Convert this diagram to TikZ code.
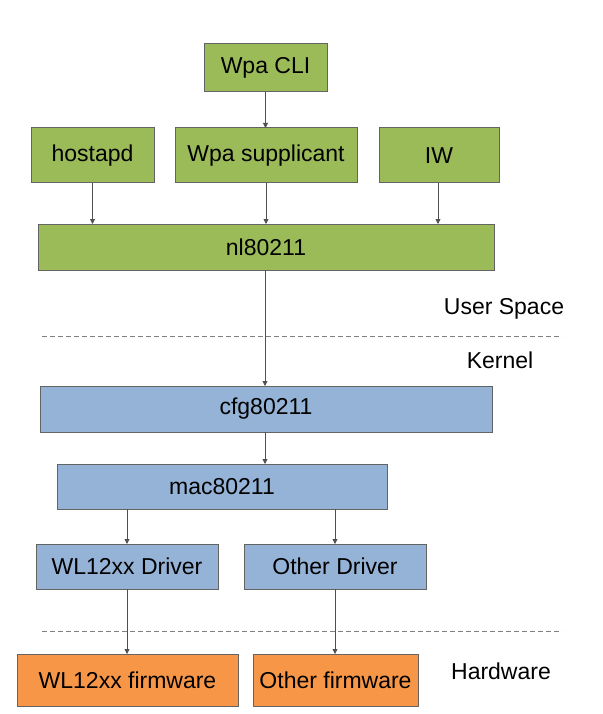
\documentclass[tikz,border=0pt]{standalone}
\usepackage{fontspec}
\setmainfont{Liberation Sans}
\usetikzlibrary{arrows.meta}
\definecolor{boxgreen}{RGB}{155,187,89}
\definecolor{boxblue}{RGB}{149,179,215}
\definecolor{boxorange}{RGB}{247,150,70}
\definecolor{edgegray}{RGB}{100,100,100}
\definecolor{arrgray}{RGB}{80,80,80}
\begin{document}
\begin{tikzpicture}[x=1pt,y=-1pt,
  base/.style={draw=edgegray,line width=1pt,inner sep=0pt,outer sep=0pt,
    font=\fontsize{23}{27}\selectfont,text=black},
  gbox/.style={base,fill=boxgreen},
  bbox/.style={base,fill=boxblue},
  obox/.style={base,fill=boxorange},
  conn/.style={draw=arrgray,line width=0.8pt,-{Triangle[length=5pt,width=5pt]}},
  sep/.style={draw=gray,line width=0.8pt,dash pattern=on 5pt off 3pt},
  lbl/.style={font=\fontsize{23}{27}\selectfont,inner sep=0pt}]
\useasboundingbox (0,0) rectangle (602,714);
% green
\node[gbox,minimum width=123pt,minimum height=48pt] (wpacli) at (265.5,68) {Wpa CLI};
\node[gbox,minimum width=123pt,minimum height=55pt] (hostapd) at (92.5,155.5) {hostapd};
\node[gbox,minimum width=182pt,minimum height=55pt] (wpasup) at (266,155.5) {Wpa supplicant};
\node[gbox,minimum width=120pt,minimum height=55pt] (iw) at (439,155.5) {IW};
\node[gbox,minimum width=456pt,minimum height=46pt] (nl) at (266,247) {nl80211};
% blue
\node[bbox,minimum width=452pt,minimum height=46pt] (cfg) at (266,409) {cfg80211};
\node[bbox,minimum width=330pt,minimum height=45pt] (mac) at (222,486.5) {mac80211};
\node[bbox,minimum width=182pt,minimum height=45pt] (wldrv) at (127,566.5) {WL12xx Driver};
\node[bbox,minimum width=182pt,minimum height=45pt] (othdrv) at (335,566.5) {Other Driver};
% orange
\node[obox,minimum width=221pt,minimum height=52pt] (wlfw) at (127.5,680) {WL12xx firmware};
\node[obox,minimum width=165pt,minimum height=52pt] (othfw) at (335.5,680) {Other firmware};
% labels
\node[lbl] (us) at (504,309) {User Space};
\node[lbl] (kern) at (500,360) {Kernel};
\node[lbl] (hw) at (501,671) {Hardware};
% separators
\coordinate (s1a) at (42,336); \coordinate (s1b) at (562,336);
\coordinate (s2a) at (42,631); \coordinate (s2b) at (562,631);
\draw[sep] (s1a) -- (s1b);
\draw[sep] (s2a) -- (s2b);
% connectors
\draw[conn] (wpacli.south) -- (wpacli.south |- wpasup.north);
\draw[conn] (hostapd.south) -- (hostapd.south |- nl.north);
\draw[conn] (wpasup.south) -- (wpasup.south |- nl.north);
\draw[conn] ([xshift=-1pt]iw.south) -- ([xshift=-1pt]iw.south |- nl.north);
\draw[conn] ([xshift=-1pt]nl.south) -- ([xshift=-1pt]nl.south |- cfg.north);
\draw[conn] ([xshift=-1pt]cfg.south) -- ([xshift=-1pt]cfg.south |- mac.north);
\draw[conn] (mac.south -| wldrv.north) -- (wldrv.north);
\draw[conn] (mac.south -| othdrv.north) -- (othdrv.north);
\draw[conn] (wldrv.south) -- (wldrv.south |- wlfw.north);
\draw[conn] (othdrv.south) -- (othdrv.south |- othfw.north);
\end{tikzpicture}
\end{document}
